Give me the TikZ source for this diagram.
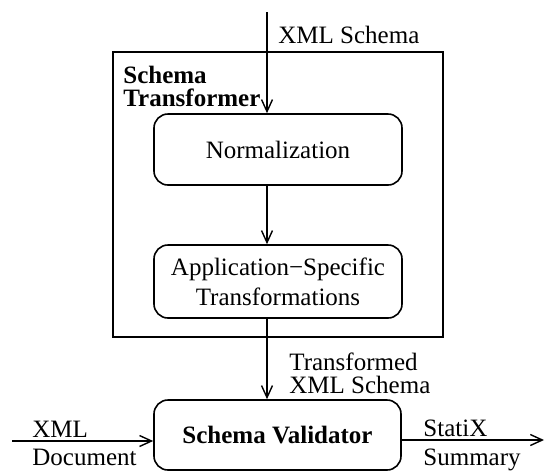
\documentclass[tikz,border=0pt]{standalone}
\usepackage{fontspec}
\setmainfont{Liberation Serif}
\usetikzlibrary{arrows.meta}
\newcommand\dfont{\fontsize{12.5}{11.5}\selectfont}
\tikzset{
  block/.style={draw, rounded corners=7pt, minimum width=124pt, minimum height=35.5pt,
    inner sep=0pt, line width=0.8pt, font=\dfont},
  lbl/.style={inner sep=0pt, anchor=base west, font=\dfont},
  flow/.style={-{Straight Barb[length=6pt,width=5.5pt]}, line width=0.7pt}
}
\begin{document}
\begin{tikzpicture}[x=0.5pt,y=-0.5pt]
\useasboundingbox (0,0) rectangle (546,472);
% schema transformer
\node[draw, line width=0.8pt, minimum width=165pt, minimum height=142.5pt, inner sep=0pt] (trans) at (278,194.5) {};
\node[inner sep=0pt, anchor=west, align=left, font=\dfont\bfseries] (transname) at (123,86) {Schema\\Transformer};
\node[block] (norm) at (278,149.5) {Normalization};
\node[block, minimum height=36.5pt, align=center, font=\fontsize{12.5}{15}\selectfont] (app) at (278,281.5) {Application−Specific\\Transformations};
% validator
\node[block, minimum width=123.5pt, minimum height=35pt, font=\dfont\bfseries] (val) at (277.5,435) {Schema Validator};
\coordinate (in) at (267,12);
\coordinate (doc) at (12,441);
\coordinate (out) at (544,440);
\draw[flow] (in) -- (in |- norm.north);
\draw[flow] (in |- norm.south) -- (in |- app.north);
\draw[flow] (in |- app.south) -- (in |- val.north);
\draw[flow] (doc) -- (doc -| val.west);
\draw[flow] (out -| val.east) -- (out);
% labels
\node[lbl] (xsd) at (278,43) {XML Schema};
\node[inner sep=0pt, anchor=west, align=left, font=\dfont] (txsd) at (289,373) {Transformed\\XML Schema};
\node[lbl] (xml) at (32,437) {XML};
\node[lbl] (document) at (32,465) {Document};
\node[lbl] (statix) at (423,436) {StatiX};
\node[lbl] (summary) at (423,465) {Summary};
\end{tikzpicture}
\end{document}
